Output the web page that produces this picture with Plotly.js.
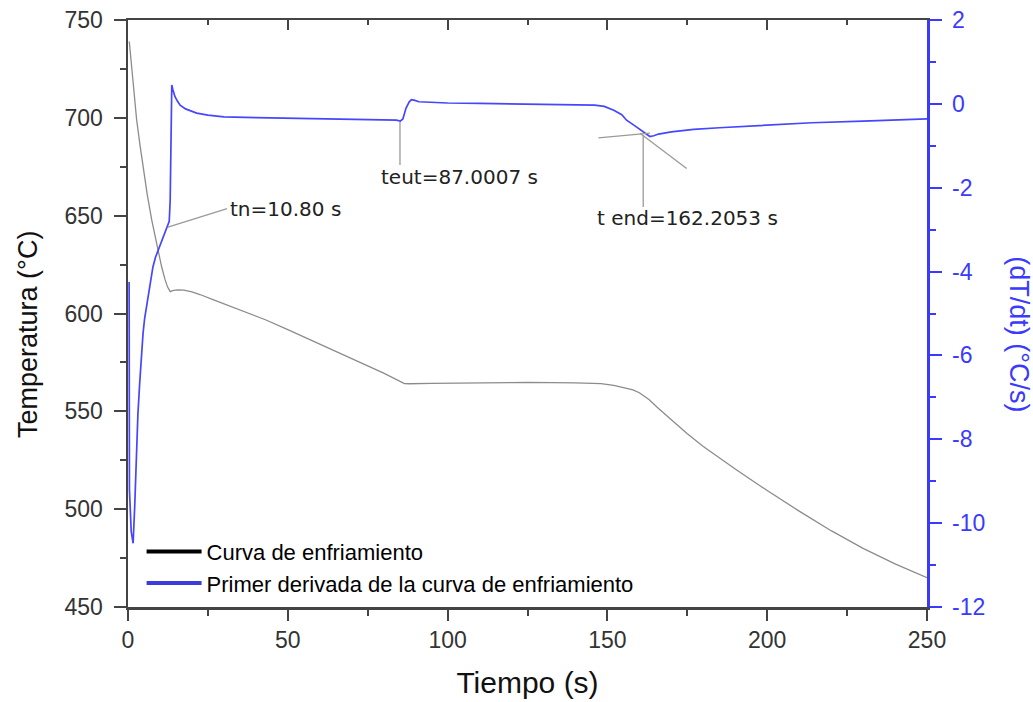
<!DOCTYPE html>
<html>
<head>
<meta charset="utf-8">
<script src="https://cdn.plot.ly/plotly-3.0.1.min.js"></script>
<style>html,body{margin:0;padding:0;background:#fff;}#chart{width:1033px;height:702px;}</style>
</head>
<body>
<div id="chart"></div>
<script>
// Cooling curve (Temperatura, °C)
const timeT = [0.4, 1.0, 1.7, 2.7, 3.8, 4.8, 6.0, 7.4, 8.5, 9.5, 10.5, 11.6, 12.4, 13.2, 14.2, 15.7, 17.5, 20, 22.5, 27, 31, 36, 43, 50, 60, 70, 80, 86.5, 88, 95, 110, 125, 140, 148, 152, 155, 158, 160, 163, 166, 170, 175, 180, 190, 200, 210, 220, 230, 240, 250];
const tempT = [739, 729, 716, 699, 685.5, 673.5, 661, 648, 639, 631, 624, 617.3, 613.5, 611.2, 611.8, 612.1, 611.9, 611, 609.7, 606.8, 604.3, 601.5, 596.8, 591.8, 584.5, 577, 569.5, 564.2, 564.1, 564.3, 564.6, 564.8, 564.5, 564.2, 563.3, 562.3, 561, 559.5, 556, 551.5, 545.5, 538.5, 532, 520.5, 509.5, 499, 489, 480, 472, 465];

// First derivative (dT/dt, °C/s)
const timeD = [0.35, 0.45, 1.0, 1.6, 2.1, 2.6, 3.1, 3.65, 4.2, 4.7, 5.2, 6.26, 7.0, 7.8, 8.6, 9.5, 11.0, 12.1, 12.9, 13.2, 13.35, 13.5, 13.7, 14.0, 14.7, 15.5, 16.3, 18, 21.5, 25, 30, 40, 50, 60, 70, 80, 84, 85.2, 86, 87, 88, 88.7, 89.5, 91, 95, 100, 110, 120, 130, 140, 146, 149, 152, 154.5, 156, 158.5, 160, 161.2, 162.5, 163.3, 164.5, 166, 170, 177, 185, 200, 214, 230, 250];
const derivD = [-4.25, -9.2, -10.2, -10.48, -9.6, -8.26, -7.4, -6.67, -6.0, -5.48, -5.12, -4.62, -4.22, -3.89, -3.66, -3.49, -3.2, -2.96, -2.8, -2.3, -1.2, -0.3, 0.45, 0.35, 0.17, 0.06, -0.03, -0.12, -0.22, -0.27, -0.31, -0.33, -0.34, -0.35, -0.36, -0.37, -0.39, -0.41, -0.36, -0.1, 0.05, 0.1, 0.09, 0.05, 0.03, 0.02, 0.01, 0.0, 0.0, -0.01, -0.03, -0.06, -0.15, -0.26, -0.39, -0.52, -0.6, -0.67, -0.74, -0.78, -0.76, -0.72, -0.67, -0.61, -0.57, -0.51, -0.45, -0.41, -0.36];

// Event markers (characteristic times) and their labels
const eventLabels = ["tn=10.80 s", "teut=87.0007 s", "t end=162.2053 s"];
const labelTime = [31.2, 103.8, 175.1];
const labelDeriv = [-2.51, -1.75, -2.73];
const labelAnchor = ["left", "center", "center"];
// guide lines: [t0, v0, t1, v1]
const guideLines = [
  [12.5, -2.94, 31.0, -2.50],   // tn pointer
  [85.1, -0.43, 85.1, -1.46],   // teut drop line
  [161.2, -0.74, 161.2, -2.46], // t end drop line
  [147.2, -0.81, 163.3, -0.70], // baseline tangent
  [160.2, -0.70, 174.8, -1.54]  // falling tangent
];

const seriesNames = ["Curva de enfriamiento", "Primer derivada de la curva de enfriamiento"];
const xTicks = [0, 50, 100, 150, 200, 250];
const yTicks = [450, 500, 550, 600, 650, 700, 750];
const y2Ticks = [-12, -10, -8, -6, -4, -2, 0, 2];
const y2TickText = ["-12", "-10", "-8", "-6", "-4", "-2", "0", "2"];

const BLUE = '#3a3aff';
const AX = '#444444';
const FONT = 'Liberation Sans, Arial, sans-serif';
const tickFont = {family: FONT, size: 23, color: '#333333'};

const traces = [
  {x: timeT, y: tempT, xaxis: 'x', yaxis: 'y', mode: 'lines', line: {color: '#8c8c8c', width: 1.3}, showlegend: false, hoverinfo: 'skip'},
  {x: timeD, y: derivD, xaxis: 'x', yaxis: 'y2', mode: 'lines', line: {color: '#4646ff', width: 1.7}, showlegend: false, hoverinfo: 'skip'}
];
guideLines.forEach(g => traces.push({x: [g[0], g[2]], y: [g[1], g[3]], xaxis: 'x', yaxis: 'y2', mode: 'lines', line: {color: '#9a9a9a', width: 1.3}, showlegend: false, hoverinfo: 'skip'}));
traces.push({x: [null], y: [null], xaxis: 'x2', yaxis: 'y', mode: 'lines', name: seriesNames[0], line: {color: '#000000', width: 4}});
traces.push({x: [null], y: [null], xaxis: 'x2', yaxis: 'y', mode: 'lines', name: seriesNames[1], line: {color: '#3c3cdd', width: 4}});

const annotations = eventLabels.map((txt, i) => ({
  text: txt, x: labelTime[i], y: labelDeriv[i], xref: 'x', yref: 'y2',
  xanchor: labelAnchor[i], yanchor: 'middle', showarrow: false,
  font: {family: 'DejaVu Sans, sans-serif', size: 20, color: '#222222'}
}));
annotations.push({
  text: 'Temperatura (°C)', textangle: -90, xref: 'paper', yref: 'paper',
  x: -0.126, y: 0.464, xanchor: 'center', yanchor: 'middle', showarrow: false,
  font: {family: FONT, size: 27, color: '#111111'}
});
annotations.push({
  text: '(dT/dt) (°C/s)', textangle: 90, xref: 'paper', yref: 'paper',
  x: 1.115, y: 0.465, xanchor: 'center', yanchor: 'middle', showarrow: false,
  font: {family: FONT, size: 27, color: BLUE}
});

const layout = {
  width: 1033, height: 702,
  margin: {l: 128, r: 106, t: 20, b: 95},
  paper_bgcolor: '#ffffff', plot_bgcolor: '#ffffff',
  showlegend: true,
  legend: {x: 0.017, y: 0.13, xanchor: 'left', yanchor: 'top', bgcolor: 'rgba(0,0,0,0)',
           font: {family: FONT, size: 22, color: '#000000'},
           itemwidth: 55, tracegroupgap: 0},
  xaxis: {range: [0, 250], tickvals: xTicks, ticks: 'outside', ticklen: 11, tickwidth: 2, tickcolor: AX,
          showline: true, linecolor: AX, linewidth: 2.5, showgrid: false, zeroline: false,
          tickfont: tickFont,
          minor: {dtick: 25, ticks: 'outside', ticklen: 6, tickwidth: 2, tickcolor: AX},
          title: {text: 'Tiempo (s)', standoff: 20, font: {family: FONT, size: 30, color: '#111111'}}},
  xaxis2: {range: [0, 250], overlaying: 'x', side: 'top', anchor: 'y', tickvals: xTicks, ticks: 'inside', ticklen: 10, tickwidth: 2, tickcolor: AX,
           showline: true, linecolor: AX, linewidth: 2.5, showgrid: false, zeroline: false, showticklabels: false,
           minor: {dtick: 25, ticks: 'inside', ticklen: 5, tickwidth: 2, tickcolor: AX}},
  yaxis: {range: [450, 750], tickvals: yTicks, ticks: 'outside', ticklen: 12, tickwidth: 2, tickcolor: AX,
          showline: true, linecolor: AX, linewidth: 2.5, showgrid: false, zeroline: false,
          tickfont: tickFont, ticklabelstandoff: 6,
          minor: {dtick: 25, ticks: 'outside', ticklen: 6, tickwidth: 2, tickcolor: AX}},
  yaxis2: {range: [-12, 2], overlaying: 'y', side: 'right', anchor: 'x', tickvals: y2Ticks, ticktext: y2TickText, ticks: 'outside', ticklen: 12, tickwidth: 2, tickcolor: BLUE,
           showline: true, linecolor: BLUE, linewidth: 2.5, showgrid: false, zeroline: false,
           tickfont: {family: FONT, size: 23, color: BLUE}, ticklabelstandoff: 6,
           minor: {dtick: 1, ticks: 'outside', ticklen: 6, tickwidth: 2, tickcolor: BLUE}},
  annotations: annotations
};

Plotly.newPlot('chart', traces, layout, {staticPlot: true, displayModeBar: false});
</script>
</body>
</html>
